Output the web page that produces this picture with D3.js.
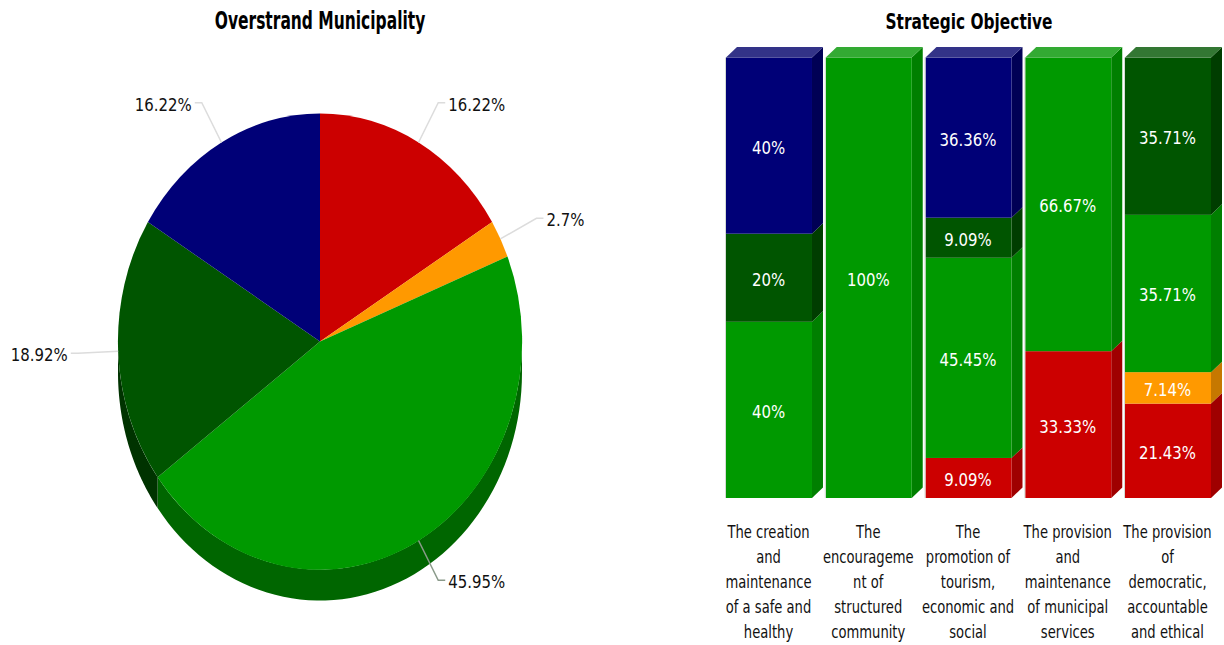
<!DOCTYPE html>
<html><head><meta charset="utf-8">
<script src="https://d3js.org/d3.v7.min.js"></script>
<style>html,body{margin:0;padding:0;background:#fff;overflow:hidden}svg{display:block}text{font-family:"DejaVu Sans",sans-serif}</style>
</head><body><svg id="c" width="1224" height="645"></svg>
<script>
const pieTitle = "Overstrand Municipality";
const barTitle = "Strategic Objective";
const pieValues = [16.22, 2.7, 45.95, 18.92, 16.22];
const pieKeys = ["red", "orange", "green", "dark", "navy"];
const categories = [
  ["The creation","and","maintenance","of a safe and","healthy"],
  ["The","encourageme","nt of","structured","community"],
  ["The","promotion of","tourism,","economic and","social"],
  ["The provision","and","maintenance","of municipal","services"],
  ["The provision","of","democratic,","accountable","and ethical"]
];
const red    = [0, 0, 9.09, 33.33, 21.43];
const orange = [0, 0, 0, 0, 7.14];
const green  = [40, 100, 45.45, 66.67, 35.71];
const dark   = [20, 0, 9.09, 0, 35.71];
const navy   = [40, 0, 36.36, 0, 0];
const stackKeys = ["red", "orange", "green", "dark", "navy"];
const face = {red:"#cc0000",orange:"#ff9900",green:"#009900",dark:"#005500",navy:"#000077"};
const side = {red:"#9f0000",orange:"#c67800",green:"#007f00",dark:"#003d00",navy:"#000055"};
const top3 = {red:"#d63333",orange:"#ffad33",green:"#33aa33",dark:"#337733",navy:"#333388"};
const pieSide = {red:"#8f0000",orange:"#b36b00",green:"#006600",dark:"#003300",navy:"#000050"};

const svg = d3.select("#c");
function label(parent, str, x, y, o={}) {
  return parent.append("text")
    .attr("transform", `translate(${x},${y}) scale(${o.sx||0.83},1)`)
    .attr("text-anchor", o.anchor||"middle")
    .attr("dominant-baseline", "central")
    .attr("font-size", o.size||18)
    .attr("font-weight", o.weight||"normal")
    .attr("fill", o.fill||"#111")
    .text(str);
}

// ---- pie ----
const cx = 320, cy = 341.5, rx = 202, ry = 228, depth = 31;
const arcs = d3.pie().sort(null).value(d => d)(pieValues);
const arcGen = d3.arc().innerRadius(0).outerRadius(1);
const px = a => cx + rx * Math.sin(a), py = a => cy - ry * Math.cos(a);
const sideG = svg.append("g");
arcs.forEach((d, i) => {
  const a0 = Math.max(d.startAngle, Math.PI/2), a1 = Math.min(d.endAngle, 3*Math.PI/2);
  if (a1 <= a0) return;
  const pts = d3.range(0, 61).map(k => a0 + (a1 - a0) * k / 60);
  const ring = pts.map(a => [px(a), py(a)]).concat(pts.slice().reverse().map(a => [px(a), py(a) + depth]));
  sideG.append("path").attr("d", d3.line()(ring) + "Z").attr("fill", pieSide[pieKeys[i]]);
});
svg.append("g").attr("transform", `translate(${cx},${cy}) scale(${rx},${ry})`)
  .selectAll("path").data(arcs).join("path")
  .attr("d", arcGen).attr("fill", (d, i) => face[pieKeys[i]]);

const lead = svg.append("g");
arcs.forEach((d, i) => {
  const m = (d.startAngle + d.endAngle) / 2;
  const right = Math.sin(m) > 0, dir = right ? 1 : -1;
  const P = f => [cx + f * rx * Math.sin(m), cy - f * ry * Math.cos(m)];
  const a = P(1), b = P(1.2), c = [b[0] + dir * 7, b[1]];
  lead.append("path").attr("d", d3.line()([a, b, c])).attr("fill", "none")
    .attr("stroke", i === 2 ? "#8a9a8a" : "#dcdcdc").attr("stroke-width", 1.5);
  label(svg, d.data + "%", c[0] + dir * 3, c[1] + 2, {anchor: right ? "start" : "end"});
});
label(svg, pieTitle, cx, 21, {size: 25, weight: "bold", sx: 0.62, fill: "#000"});

// ---- stacked bars ----
const barData = {red, orange, green, dark, navy};
const x = d3.scaleBand().domain(d3.range(categories.length)).range([726, 1211]).paddingInner(0.138);
const y = d3.scaleLinear().domain([0, 100]).range([498, 57.5]);
const dx = 11, dy = 10.5;
const bars = svg.append("g");
categories.forEach((cat, c) => {
  let base = 0, last = null;
  stackKeys.forEach(k => {
    const v = barData[k][c];
    if (!v) return;
    const X = x(c), W = x.bandwidth(), y0 = y(base), y1 = y(base + v);
    bars.append("path").attr("fill", side[k])
      .attr("d", d3.line()([[X+W,y1],[X+W+dx,y1-dy],[X+W+dx,y0-dy],[X+W,y0]]) + "Z");
    bars.append("rect").attr("x", X).attr("y", y1).attr("width", W).attr("height", y0 - y1).attr("fill", face[k]);
    base += v; last = k;
  });
  const X = x(c), W = x.bandwidth(), T = y(base);
  bars.append("path").attr("fill", top3[last])
    .attr("d", d3.line()([[X,T],[X+dx,T-dy],[X+W+dx,T-dy],[X+W,T]]) + "Z");
  bars.append("path").attr("fill", "none").attr("stroke", "#d5dbd5").attr("stroke-width", 1)
    .attr("d", d3.line()([[X-0.5,y(0)],[X-0.5,T]]));
  base = 0;
  stackKeys.forEach(k => {
    const v = barData[k][c];
    if (!v) return;
    label(svg, v + "%", X + W / 2 - 0.5, y(base + v / 2) + 2, {fill: "#fff"});
    base += v;
  });
  cat.forEach((line, l) => label(svg, line, X + W / 2 - 0.5, 532 + l * 25, {size: 18, sx: 0.73}));
});
label(svg, barTitle, 969, 21, {size: 22, weight: "bold", sx: 0.70, fill: "#000"});
</script></body></html>
